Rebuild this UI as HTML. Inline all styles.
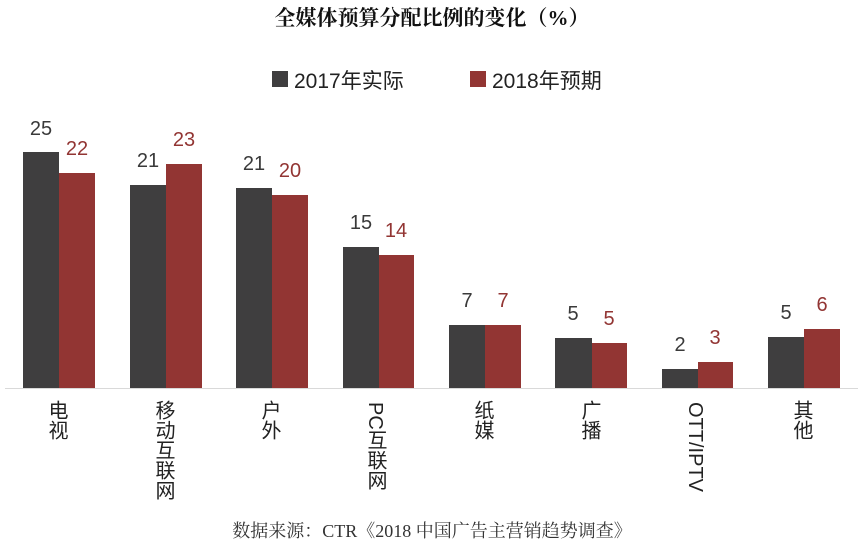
<!DOCTYPE html>
<html><head><meta charset="utf-8"><style>
html,body{margin:0;padding:0;background:#fff;}
svg{display:block;}
.cat{font-family:"Liberation Sans","Noto Sans CJK SC",sans-serif;font-size:20px;fill:#222;writing-mode:tb;}
.n{font-family:"Liberation Sans","Noto Sans CJK SC",sans-serif;font-size:20px;text-anchor:middle;}
</style></head><body>
<svg width="864" height="547" viewBox="0 0 864 547" xmlns="http://www.w3.org/2000/svg">
<text x="432" y="25" text-anchor="middle" font-family="'Liberation Serif','Noto Serif CJK SC',serif" font-weight="bold" font-size="21" fill="#111">全媒体预算分配比例的变化（%）</text>
<rect x="272" y="71" width="16" height="16" fill="#3f3e3f"/>
<text x="294" y="88" font-family="'Liberation Sans','Noto Sans CJK SC',sans-serif" font-size="21" fill="#222">2017年实际</text>
<rect x="470" y="71" width="16" height="16" fill="#923533"/>
<text x="492" y="88" font-family="'Liberation Sans','Noto Sans CJK SC',sans-serif" font-size="21" fill="#222">2018年预期</text>
<line x1="5" y1="388.5" x2="858" y2="388.5" stroke="#d9d9d9" stroke-width="1"/>
<g fill="#3f3e3f">
<rect x="23" y="152" width="36" height="236"/>
<rect x="130" y="185" width="36" height="203"/>
<rect x="236" y="188" width="36" height="200"/>
<rect x="343" y="247" width="36" height="141"/>
<rect x="449" y="325" width="36" height="63"/>
<rect x="555" y="338" width="37" height="50"/>
<rect x="662" y="369" width="36" height="19"/>
<rect x="768" y="337" width="36" height="51"/>
</g>
<g fill="#923533">
<rect x="59" y="173" width="36" height="215"/>
<rect x="166" y="164" width="36" height="224"/>
<rect x="272" y="195" width="36" height="193"/>
<rect x="379" y="255" width="35" height="133"/>
<rect x="485" y="325" width="36" height="63"/>
<rect x="592" y="343" width="35" height="45"/>
<rect x="698" y="362" width="35" height="26"/>
<rect x="804" y="329" width="36" height="59"/>
</g>
<g class="n" fill="#3a3a3a">
<text x="41" y="135">25</text>
<text x="148" y="167">21</text>
<text x="254" y="170">21</text>
<text x="361" y="229">15</text>
<text x="467" y="307">7</text>
<text x="573" y="320">5</text>
<text x="680" y="351">2</text>
<text x="786" y="319">5</text>
</g>
<g class="n" fill="#923533">
<text x="77" y="155">22</text>
<text x="184" y="146">23</text>
<text x="290" y="177">20</text>
<text x="396" y="237">14</text>
<text x="503" y="307">7</text>
<text x="609" y="325">5</text>
<text x="715" y="344">3</text>
<text x="822" y="311">6</text>
</g>
<g class="cat">
<text x="56" y="400">电视</text>
<text x="163" y="400">移动互联网</text>
<text x="269" y="400">户外</text>
<text x="375" y="402">PC互联网</text>
<text x="482" y="400">纸媒</text>
<text x="589" y="400">广播</text>
<text x="695" y="402">OTT/IPTV</text>
<text x="801" y="400">其他</text>
</g>
<text x="432" y="537" text-anchor="middle" font-family="'Liberation Serif','Noto Serif CJK SC',serif" font-size="18" fill="#333">数据来源：CTR《2018 中国广告主营销趋势调查》</text>
</svg>
</body></html>
